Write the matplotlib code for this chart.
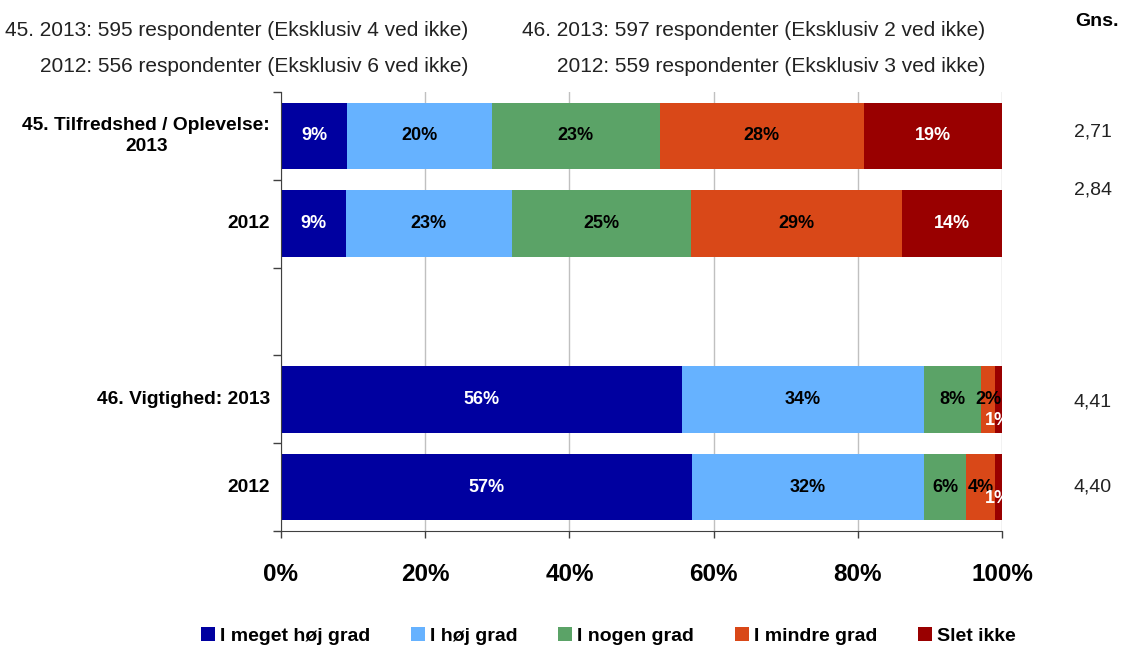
import matplotlib
matplotlib.use("Agg")
import matplotlib.pyplot as plt
import numpy as np
from matplotlib.patches import Patch

plt.rcParams['font.family'] = ['Liberation Sans', 'DejaVu Sans']

# Data
row_labels = ["45. Tilfredshed / Oplevelse:\n2013", "2012", "", "46. Vigtighed: 2013", "2012"]
categories = ["I meget høj grad", "I høj grad", "I nogen grad", "I mindre grad", "Slet ikke"]
colors = ["#0000A0", "#66B2FF", "#5BA367", "#D94818", "#990000"]
text_colors = ["white", "black", "black", "black", "white"]

# share per row (percent), empty slot kept as None
values = [
    [9.2, 20.1, 23.2, 28.4, 19.1],
    [9.0, 23.0, 24.9, 29.2, 13.9],
    None,
    [55.6, 33.6, 7.9, 1.9, 1.0],
    [57.0, 32.2, 5.8, 4.0, 1.0],
]
labels = [
    ["9%", "20%", "23%", "28%", "19%"],
    ["9%", "23%", "25%", "29%", "14%"],
    None,
    ["56%", "34%", "8%", "2%", "1%"],
    ["57%", "32%", "6%", "4%", "1%"],
]
gns = ["2,71", "2,84", "", "4,41", "4,40"]
header_left = ["45. 2013: 595 respondenter (Eksklusiv 4 ved ikke)",
               "2012: 556 respondenter (Eksklusiv 6 ved ikke)"]
header_right = ["46. 2013: 597 respondenter (Eksklusiv 2 ved ikke)",
                "2012: 559 respondenter (Eksklusiv 3 ved ikke)"]

fig = plt.figure(figsize=(11.22, 6.47), dpi=100)
ax = fig.add_axes([281 / 1122, 1 - 531 / 647, 721 / 1122, 439 / 647])

for i, row in enumerate(values):
    if row is None:
        continue
    left = 0
    for j, v in enumerate(row):
        ax.barh(i, v, left=left, height=0.76, color=colors[j], zorder=2)
        cx = left + v / 2
        cy = i
        if v < 1.5:
            # tiny segment: label pushed down, partly clipped
            cy = i + (0.24 if i == 3 else 0.13)
        ax.text(cx, cy, labels[i][j], ha="center", va="center", color=text_colors[j],
                fontsize=13, fontweight="bold", zorder=3, clip_on=True)
        left += v

ax.set_xlim(0, 100)
ax.set_ylim(4.5, -0.5)
ax.set_xticks([0, 20, 40, 60, 80, 100])
ax.set_xticklabels(["0%", "20%", "40%", "60%", "80%", "100%"],
                   fontsize=17.5, fontweight="bold")
ax.tick_params(axis="x", length=5, width=1, color="#404040", pad=18)
ax.set_yticks(np.arange(-0.5, 5, 1.0))
ax.set_yticklabels([])
ax.tick_params(axis="y", length=6, width=1, color="#404040")
for i, lab in enumerate(row_labels):
    if lab:
        ax.text(-1.5, i, lab, ha="right", va="center", fontsize=13.8,
                fontweight="bold", multialignment="center", linespacing=1.35)

ax.grid(axis="x", color="#C0C0C0", linewidth=1, zorder=0)
for s in ["top", "right"]:
    ax.spines[s].set_visible(False)
ax.spines["left"].set_color("#404040")
ax.spines["bottom"].set_color("#404040")

# Gns. column
fig.text(1097 / 1122, 1 - 22 / 647, "Gns.", ha="center", va="center",
         fontsize=14, fontweight="bold")
gns_y = [132, 190, None, 402, 487]
for g, y in zip(gns, gns_y):
    if g:
        fig.text(1093 / 1122, 1 - y / 647, g, ha="center", va="center",
                 fontsize=14, color="#222222")

# Header text
for k, y in enumerate([30, 66]):
    fig.text(468 / 1122, 1 - y / 647, header_left[k], ha="right", va="center",
             fontsize=15, color="#222222")
    fig.text(985 / 1122, 1 - y / 647, header_right[k], ha="right", va="center",
             fontsize=15, color="#222222")

handles = [Patch(facecolor=c, edgecolor="none") for c in colors]
fig.legend(handles, categories, loc="center", bbox_to_anchor=(0.542, 1 - 636 / 647),
           ncol=5, frameon=False, handlelength=0.72, handleheight=0.72,
           handletextpad=0.25, columnspacing=2.1,
           prop={"size": 14, "weight": "bold"})

fig.savefig("out.png", dpi=100)
